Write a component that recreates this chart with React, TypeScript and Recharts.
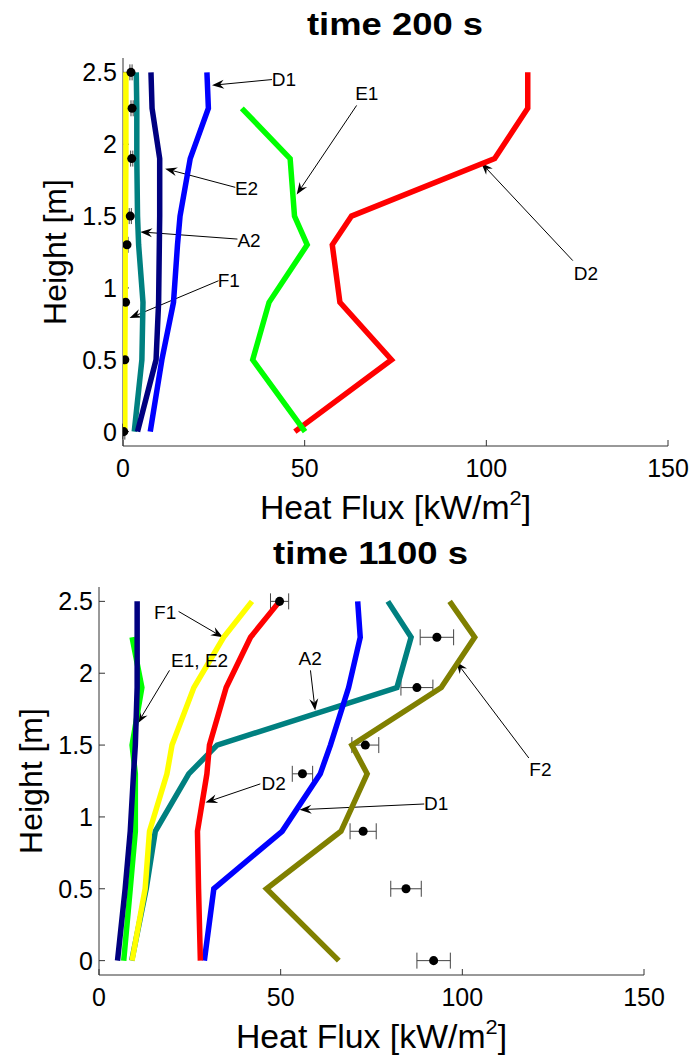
import React from 'react';
import { ScatterChart, Scatter, XAxis, YAxis, ErrorBar, ReferenceLine, ReferenceDot } from 'recharts';

const FONT = '"Liberation Sans", Arial, Helvetica, sans-serif';

const heights = [0, 0.5, 0.9, 1.3, 1.5, 1.9, 2.25, 2.5];
const heightsE1 = [0, 0.5, 0.9, 1.3, 1.5, 1.9, 2.25];
const fluxTicks = [0, 50, 100, 150];
const heightTicks = [0, 0.5, 1, 1.5, 2, 2.5];

// time 200 s
const a2At200 = [3.1, 5.2, 5.5, 4.3, 4.0, 3.8, 3.8, 3.65];
const d1At200 = [7.5, 10.7, 13.9, 15, 15.7, 18.5, 23.5, 23.1];
const d2At200 = [47.3, 73.9, 59.7, 57.6, 62.9, 102.3, 111.4, 111.4];
const e1At200 = [50.1, 35.7, 40.2, 50.7, 47.2, 46, 32.7];
const e2At200 = [4.0, 9.1, 9.8, 10, 10.1, 10.1, 8, 7.7];
const f1At200 = [0.5, 0.5, 0.6, 0.6, 0.7, 0.8, 0.8, 0.8];
const expAt200 = [0.2, 0.5, 0.7, 1.1, 2.0, 2.4, 2.5, 2.2];
const expErrAt200 = [0.3, 0.3, 0.3, 0.3, 0.3, 0.3, 0.3, 0.3];

// time 1100 s
const a2At1100 = [9, 13, 15.5, 24.7, 32.5, 82, 85.9, 79.5];
const d1At1100 = [29.0, 31.6, 50.4, 60.9, 63.7, 68.7, 71.9, 71.2];
const d2At1100 = [27.9, 27.4, 27.1, 29.7, 30.4, 35.0, 41.7, 49.7];
const e1At1100 = [6.8, 8.6, 10, 10, 9.1, 11.8, 9.1];
const e2At1100 = [5.1, 7.2, 8.6, 9.5, 10.0, 10.5, 10.5, 10.5];
const f1At1100 = [9.1, 12.7, 13.9, 18.7, 20.1, 26.1, 34.3, 42.1];
const f2At1100 = [66, 46.1, 66.6, 73.8, 69.6, 94.2, 103.4, 96.5];
const expAt1100 = [92.1, 84.5, 72.7, 56.0, 73.3, 87.5, 93.0, 49.7];
const expErrAt1100 = [4.6, 4.2, 3.6, 2.8, 3.7, 4.4, 4.6, 2.5];

// annotations: label, text centre, line start, arrow tip (data units)
const labels200 = ['D1', 'E1', 'E2', 'A2', 'F1', 'D2'];
const textPos200 = [[44.3, 2.45], [67.1, 2.35], [34.0, 1.69], [34.7, 1.33], [29.1, 1.05], [127.4, 1.1]];
const lineFrom200 = [[41.0, 2.45], [64.3, 2.27], [30.9, 1.7], [31.5, 1.34], [26.3, 1.05], [123.8, 1.19]];
const tip200 = [[24.5, 2.41], [47.8, 1.65], [11.6, 1.83], [4.75, 1.39], [1.8, 0.79], [98.6, 1.87]];

const labels1100 = ['F1', 'E1, E2', 'A2', 'D2', 'D1', 'F2'];
const textPos1100 = [[18.2, 2.42], [27.7, 2.09], [58.1, 2.1], [48.1, 1.23], [92.8, 1.09], [121.5, 1.33]];
const lineFrom1100 = [[21.9, 2.43], [19.4, 2.02], [58.2, 2.02], [44.4, 1.23], [89.5, 1.09], [118.3, 1.41]];
const tip1100 = [[34.1, 2.25], [10.6, 1.65], [59.5, 1.74], [29.3, 1.1], [55.2, 1.05], [98.3, 2.08]];

const colors = {
  A2: '#008080',
  D1: '#0000ff',
  D2: '#ff0000',
  E1: '#00ff00',
  E2: '#000080',
  F1: '#ffff00',
  F2: '#808000',
};

const toPoints = (vals: number[], hs: number[]) => vals.map((v, i) => ({ x: v, y: hs[i] }));
const toExp = (vals: number[], errs: number[]) => vals.map((v, i) => ({ x: v, y: heights[i], err: errs[i] }));

const noDot = () => <g />;

const Arrow = (p: any) => {
  const { x1, y1, x2, y2 } = p;
  const dx = x2 - x1;
  const dy = y2 - y1;
  const len = Math.hypot(dx, dy) || 1;
  const ux = dx / len;
  const uy = dy / len;
  const L = 12, W = 4.5, N = 8;
  const bx = x2 - ux * L, by = y2 - uy * L;
  const nx = x2 - ux * N, ny = y2 - uy * N;
  const pts = `${x2},${y2} ${bx - uy * W},${by + ux * W} ${nx},${ny} ${bx + uy * W},${by - ux * W}`;
  return (
    <g>
      <line x1={x1} y1={y1} x2={nx} y2={ny} stroke="#000" strokeWidth={1} />
      <polygon points={pts} fill="#000" />
    </g>
  );
};

const labelShape = (text: string) => (p: any) => (
  <text x={p.cx} y={p.cy} textAnchor="middle" dominantBaseline="central" fontSize={19} fontFamily={FONT} fill="#000">
    {text}
  </text>
);

const line = (vals: number[], hs: number[], color: string) => (
  <Scatter
    data={toPoints(vals, hs)}
    line={{ stroke: color, strokeWidth: 5.5 }}
    shape={noDot}
    fill={color}
    isAnimationActive={false}
  />
);

const tickStyle = { fontSize: 25, fill: '#000', fontFamily: FONT };

type PanelProps = {
  title: string;
  top: number;
  yAxisWidth: number;
  right: number;
  series: React.ReactNode;
  exp: { x: number; y: number; err: number }[];
  labels: string[];
  textPos: number[][];
  lineFrom: number[][];
  tips: number[][];
  titleX: number;
  titleLen: number;
};

function Panel(props: PanelProps) {
  const { title, top, yAxisWidth, right, series, exp, labels, textPos, lineFrom, tips, titleX, titleLen } = props;
  const cx = (yAxisWidth + 693 - right) / 2;
  return (
    <div style={{ position: 'absolute', left: 0, top, width: 693, height: 530 }}>
      <svg width={693} height={60} style={{ position: 'absolute', left: 0, top: 0 }}>
        <text x={titleX} y={34.5} textAnchor="middle" fontSize={32} fontWeight="bold" fontFamily={FONT}
          textLength={titleLen} lengthAdjust="spacingAndGlyphs" fill="#000">
          {title}
        </text>
      </svg>
      <ScatterChart width={693} height={530} margin={{ top: 58, right, left: 0, bottom: 0 }}>
        <XAxis
          type="number"
          dataKey="x"
          domain={[0, 150]}
          ticks={fluxTicks}
          interval={0}
          height={84}
          tickSize={-6}
          tickMargin={19}
          tick={tickStyle}
          stroke="#333"
          allowDataOverflow
          label={{
            content: () => (
              <text transform={`translate(${cx}, 519) scale(1.04, 1)`} x={0} y={0} textAnchor="middle"
                fontSize={32.5} fontFamily={FONT} fill="#000">
                <tspan>Heat Flux [kW/m</tspan>
                <tspan dy={-14} fontSize={21}>2</tspan>
                <tspan dy={14}>]</tspan>
              </text>
            ),
          }}
        />
        <YAxis
          type="number"
          dataKey="y"
          domain={[-0.1, 2.6]}
          ticks={heightTicks}
          interval={0}
          width={yAxisWidth}
          tickSize={-6}
          tickMargin={12}
          tick={tickStyle}
          stroke="#333"
          allowDataOverflow
          label={{
            content: () => {
              const lx = yAxisWidth - 68;
              const ly = 252;
              return (
                <text x={lx} y={ly} transform={`rotate(-90, ${lx}, ${ly})`} textAnchor="middle"
                  dominantBaseline="central" fontSize={32} fontFamily={FONT} fill="#000">
                  Height [m]
                </text>
              );
            },
          }}
        />
        {series}
        <Scatter data={exp} fill="#000" isAnimationActive={false}>
          <ErrorBar dataKey="err" direction="x" width={8} stroke="#444" strokeWidth={1} isAnimationActive={false} />
        </Scatter>
        {labels.map((lab, i) => (
          <ReferenceLine
            key={`arrow-${i}`}
            segment={[{ x: lineFrom[i][0], y: lineFrom[i][1] }, { x: tips[i][0], y: tips[i][1] }]}
            ifOverflow="visible"
            shape={Arrow}
          />
        ))}
        {labels.map((lab, i) => (
          <ReferenceDot
            key={`label-${i}`}
            x={textPos[i][0]}
            y={textPos[i][1]}
            ifOverflow="visible"
            shape={labelShape(lab)}
          />
        ))}
      </ScatterChart>
    </div>
  );
}

export default function App() {
  return (
    <div style={{ position: 'absolute', left: 0, top: 0, width: 693, height: 1059, background: '#fff' }}>
      <Panel
        title="time 200 s"
        top={0}
        yAxisWidth={123}
        right={25}
        titleX={395}
        titleLen={176}
        series={
          <>
            {line(a2At200, heights, colors.A2)}
            {line(d1At200, heights, colors.D1)}
            {line(d2At200, heights, colors.D2)}
            {line(e1At200, heightsE1, colors.E1)}
            {line(e2At200, heights, colors.E2)}
            {line(f1At200, heights, colors.F1)}
          </>
        }
        exp={toExp(expAt200, expErrAt200)}
        labels={labels200}
        textPos={textPos200}
        lineFrom={lineFrom200}
        tips={tip200}
      />
      <Panel
        title="time 1100 s"
        top={529}
        yAxisWidth={99}
        right={49}
        titleX={370.5}
        titleLen={195}
        series={
          <>
            {line(a2At1100, heights, colors.A2)}
            {line(d1At1100, heights, colors.D1)}
            {line(d2At1100, heights, colors.D2)}
            {line(e1At1100, heightsE1, colors.E1)}
            {line(e2At1100, heights, colors.E2)}
            {line(f1At1100, heights, colors.F1)}
            {line(f2At1100, heights, colors.F2)}
          </>
        }
        exp={toExp(expAt1100, expErrAt1100)}
        labels={labels1100}
        textPos={textPos1100}
        lineFrom={lineFrom1100}
        tips={tip1100}
      />
    </div>
  );
}
